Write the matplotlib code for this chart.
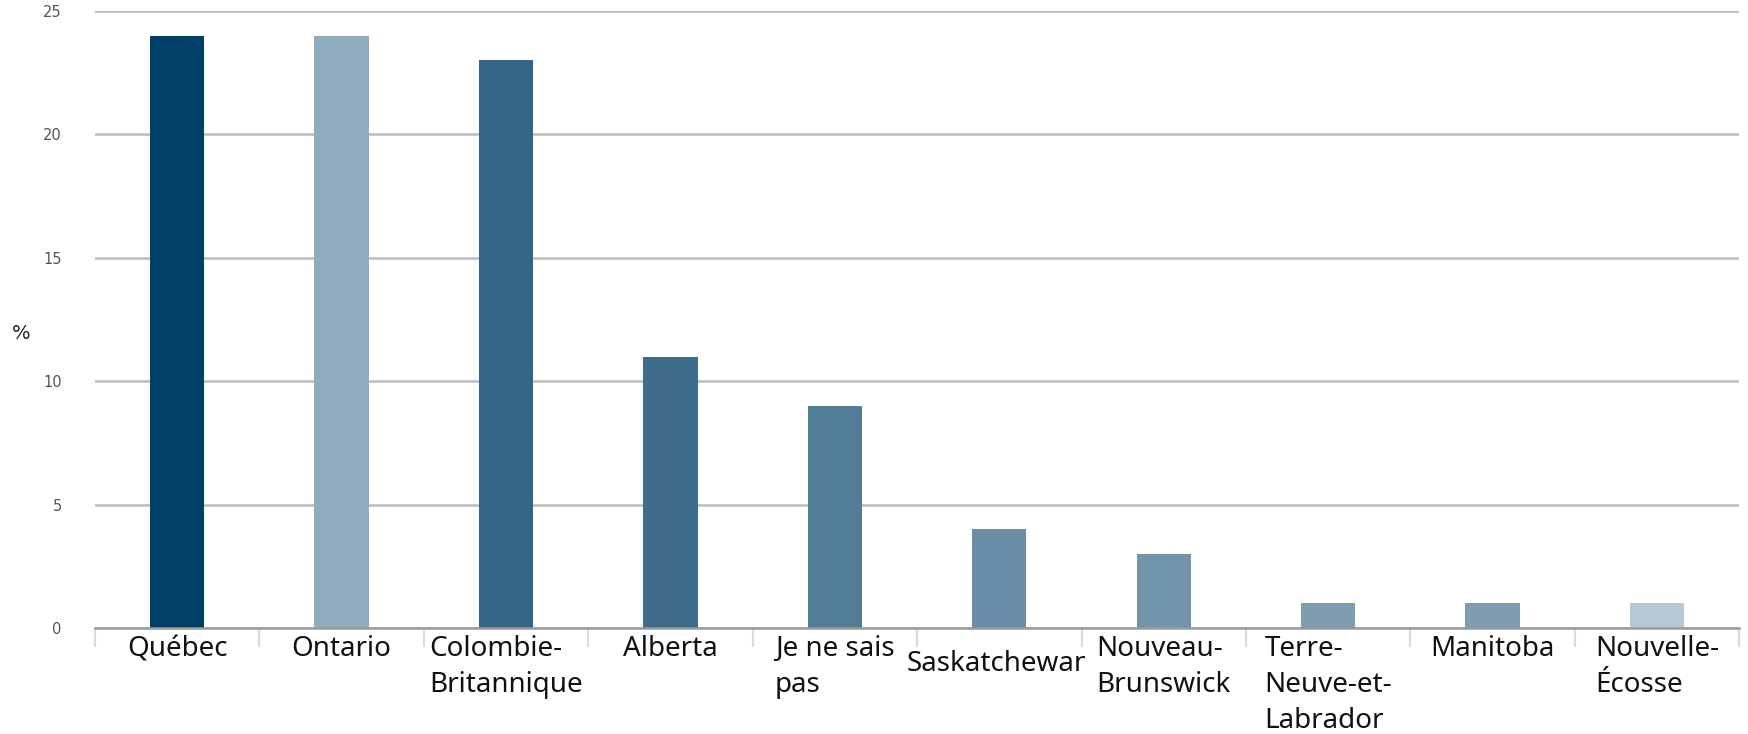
import numpy as np
import matplotlib
matplotlib.use('Agg')
from matplotlib import pyplot as plt
from matplotlib import transforms as mtrans

provinces = ['Québec', 'Ontario', 'Colombie-\nBritannique', 'Alberta', 'Je ne sais\npas',
             'Saskatchewan', 'Nouveau-\nBrunswick', 'Terre-\nNeuve-et-\nLabrador',
             'Manitoba', 'Nouvelle-\nÉcosse']
pct = [24, 24, 23, 11, 9, 4, 3, 1, 1, 1]
colors = ['#003f66', '#90adc0', '#336687', '#3e6d8c', '#527d99',
          '#6a8ca6', '#7294ab', '#7e9db0', '#7e9db0', '#b5c9d5']
yticks = [0, 5, 10, 15, 20, 25]

fig = plt.figure(figsize=(17.48, 7.34), dpi=100)
ax = fig.add_axes([0.0543, 0.1444, 0.9407, 0.8406])

x = np.arange(len(pct))
ax.bar(x, pct, width=0.33, color=colors, zorder=3)

ax.set_xlim(-0.5, len(pct) - 0.5)
ax.set_ylim(0, 25)
ax.set_yticks(yticks)
ax.set_yticklabels([str(v) for v in yticks], fontsize=10.5, color='#555555', fontname='DejaVu Sans')
ax.tick_params(axis='y', length=0, pad=24)
ax.yaxis.grid(True, color='#bcbcbc', lw=1.8, zorder=0)
for s in ['top', 'right', 'left']:
    ax.spines[s].set_visible(False)
ax.spines['bottom'].set_color('#9a9a9a')
ax.spines['bottom'].set_linewidth(1.8)
ax.spines['bottom'].set_zorder(4)

# separators between the categories
ax.set_xticks(np.arange(len(pct) + 1) - 0.5)
ax.set_xticklabels([])
ax.tick_params(axis='x', length=14, width=1.5, color='#d3dbe6', direction='out')

tr = mtrans.blended_transform_factory(ax.transData, ax.transAxes)
for i, name in enumerate(provinces):
    t = ax.text(i, -0.012, name, transform=tr, ha='center', va='top', multialignment='left',
                fontsize=20, fontname='Noto Sans', color='#111111', linespacing=1.36)
    if name == 'Saskatchewan':
        t.set_y(-0.036)
        clip = mtrans.TransformedBbox(mtrans.Bbox([[i - 0.6, -0.5], [i + 0.52, 0]]), tr)
        t.set_clip_box(clip)
        t.set_clip_on(True)

fig.text(0.007, 0.545, '%', fontsize=14, color='#222222', ha='left', va='center')

plt.savefig('out.png', dpi=100)
